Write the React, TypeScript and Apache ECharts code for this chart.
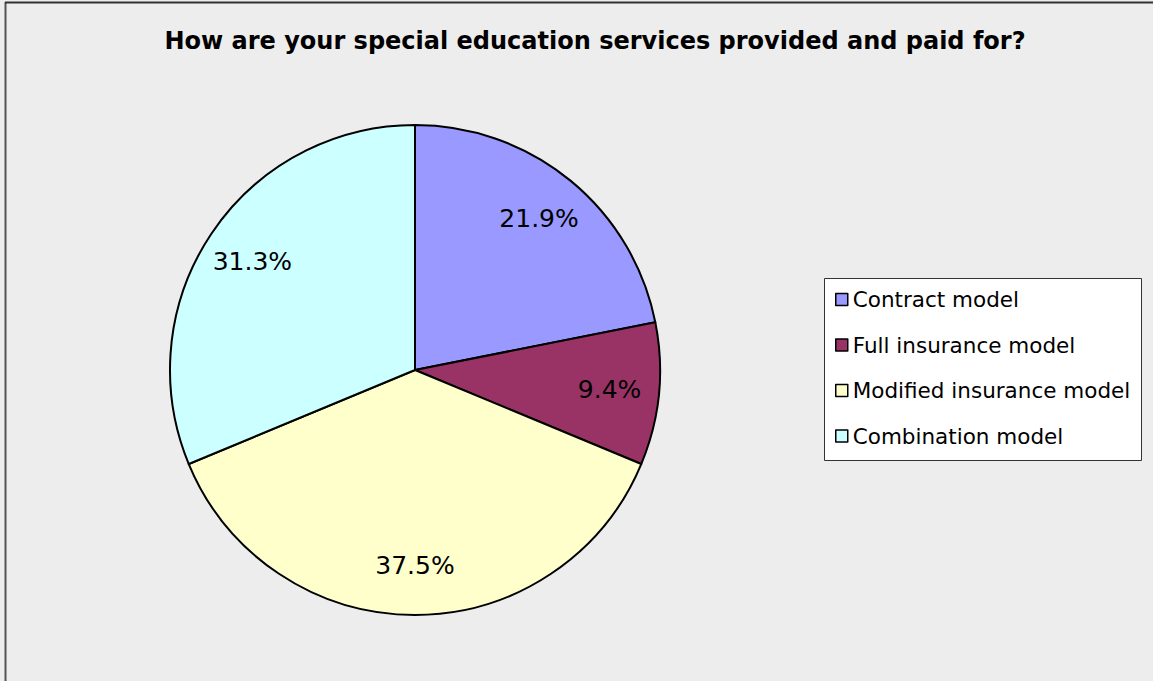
import React, { useEffect, useRef } from "react";
import * as echarts from "echarts";

const title = "How are your special education services provided and paid for?";
const categories = ["Contract model", "Full insurance model", "Modified insurance model", "Combination model"];
const values = [21.9, 9.4, 37.5, 31.3];
const colors = ["#9999FF", "#993366", "#FFFFCC", "#CCFFFF"];

export default function App() {
  const ref = useRef<HTMLDivElement>(null);
  useEffect(() => {
    const chart = echarts.init(ref.current!, null, { renderer: "svg" });
    const data = categories.map((name, i) => ({ name, value: values[i], itemStyle: { color: colors[i] } }));
    chart.setOption({
      animation: false,
      backgroundColor: "#EDEDED",
      title: {
        text: title,
        left: 595,
        top: 29,
        padding: 0,
        textAlign: "center",
        textStyle: { fontFamily: "DejaVu Sans", fontWeight: "bold", fontSize: 24, color: "#000" },
      },
      graphic: [
        { type: "line", shape: { x1: 5.5, y1: 2, x2: 5.5, y2: 681 }, style: { stroke: "#555", lineWidth: 2 } },
        { type: "line", shape: { x1: 5, y1: 2.5, x2: 1153, y2: 2.5 }, style: { stroke: "#333", lineWidth: 2 } },
        { type: "rect", shape: { x: 824.5, y: 278.5, width: 317, height: 182 }, style: { fill: "#fff", stroke: "#333", lineWidth: 1 }, z: -1 },
      ],
      legend: {
        orient: "vertical",
        left: 835,
        top: 288,
        padding: 0,
        itemGap: 22.5,
        itemWidth: 12,
        itemHeight: 12,
        icon: "rect",
        itemStyle: { borderColor: "#000", borderWidth: 1.5 },
        textStyle: { fontFamily: "DejaVu Sans", fontSize: 21.5, color: "#000", lineHeight: 23, padding: [0, 0, 0, 0] },
        data: categories,
      },
      series: [
        {
          type: "pie",
          center: [415, 370],
          radius: 245,
          startAngle: 90,
          clockwise: true,
          silent: true,
          data,
          label: { show: false },
          labelLine: { show: false },
          itemStyle: { borderColor: "#000", borderWidth: 2 },
        },
        {
          type: "pie",
          center: [415, 370],
          radius: [140, 245],
          startAngle: 90,
          clockwise: true,
          silent: true,
          legendHoverLink: false,
          data: categories.map((name, i) => ({ name: name + " ", value: values[i] })),
          itemStyle: { color: "rgba(0,0,0,0)" },
          label: {
            show: true,
            position: "inside",
            formatter: (p: any) => `${p.value.toFixed(1)}%`,
            fontFamily: "DejaVu Sans",
            fontSize: 25,
            color: "#000",
          },
          labelLine: { show: false },
        },
      ],
    });
    return () => chart.dispose();
  }, []);
  return <div ref={ref} style={{ position: "absolute", left: 0, top: 0, width: 1153, height: 681 }} />;
}
